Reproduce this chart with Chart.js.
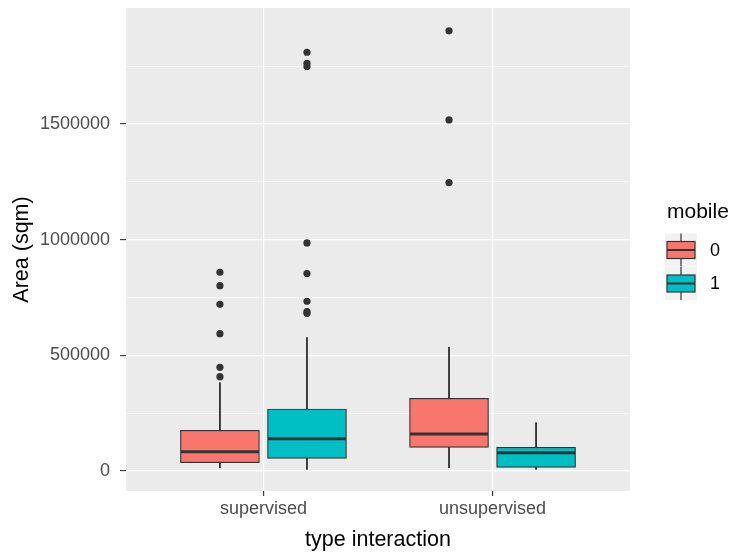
<!DOCTYPE html>
<html>
<head>
<meta charset="utf-8">
<script src="https://cdn.jsdelivr.net/npm/chart.js@4.4.0/dist/chart.umd.min.js"></script>
<style>
html, body { margin: 0; padding: 0; background: #ffffff; }
#wrap { width: 734px; height: 558px; position: relative; }
</style>
</head>
<body>
<div id="wrap"><canvas id="boxChart"></canvas></div>
<script>
// categories on the x axis and the fill groups
const categories = ['supervised', 'unsupervised'];
const mobileGroups = ['0', '1'];

// box statistics, one value per category
const lowMobile0 = [14000, 14400];
const q1Mobile0 = [36000, 102300];
const medianMobile0 = [83500, 160000];
const q3Mobile0 = [176000, 314100];
const highMobile0 = [381700, 534500];

const lowMobile1 = [7200, 7200];
const q1Mobile1 = [54800, 15800];
const medianMobile1 = [139700, 79200];
const q3Mobile1 = [268000, 102300];
const highMobile1 = [576300, 208900];

// outlying points per category
const outliersMobile0 = [
    [407700, 448000, 593500, 720400, 801000, 858800],
    [1246300, 1517200, 1902000]
];
const outliersMobile1 = [
    [681500, 688700, 733400, 853000, 985500, 1747800, 1762000, 1809600],
    []
];

// y ticks (major ones get labels, the others are minor grid lines)
const yTickValues = [0, 250000, 500000, 750000, 1000000, 1250000, 1500000, 1750000];
const yMajorStep = 500000;

const fillColors = ['#F8766D', '#00BFC4'];
const lineColor = '#333333';
const dodge = [-0.19, 0.19];
const boxPx = 79;

const groups = [
    { low: lowMobile0, q1: q1Mobile0, med: medianMobile0, q3: q3Mobile0, high: highMobile0, out: outliersMobile0 },
    { low: lowMobile1, q1: q1Mobile1, med: medianMobile1, q3: q3Mobile1, high: highMobile1, out: outliersMobile1 }
];

const datasets = [];
groups.forEach((g, gi) => {
    const xs = categories.map((c, i) => i + 1 + dodge[gi]);
    datasets.push({
        type: 'bar',
        label: 'whisker ' + mobileGroups[gi],
        data: xs.map((x, i) => ({ x: x, y: [g.low[i], g.high[i]] })),
        backgroundColor: lineColor,
        borderWidth: 0,
        barThickness: 1.2,
        grouped: false,
        order: 4
    });
    datasets.push({
        type: 'bar',
        label: 'box ' + mobileGroups[gi],
        data: xs.map((x, i) => ({ x: x, y: [g.q1[i], g.q3[i]] })),
        backgroundColor: fillColors[gi],
        borderColor: lineColor,
        borderWidth: 1.2,
        borderSkipped: false,
        barThickness: boxPx,
        grouped: false,
        order: 3
    });
    datasets.push({
        type: 'scatter',
        label: 'median ' + mobileGroups[gi],
        data: xs.map((x, i) => ({ x: x, y: g.med[i] })),
        pointStyle: 'line',
        pointRadius: boxPx / 2 - 0.5,
        borderColor: lineColor,
        pointBorderWidth: 3,
        borderWidth: 3,
        order: 2
    });
    const pts = [];
    g.out.forEach((list, i) => list.forEach(v => pts.push({ x: xs[i], y: v })));
    datasets.push({
        type: 'scatter',
        label: 'outliers ' + mobileGroups[gi],
        data: pts,
        pointRadius: 3.6,
        backgroundColor: lineColor,
        borderWidth: 0,
        order: 1
    });
});

const fontFamily = '"Liberation Sans", Arial, sans-serif';

const panelBg = {
    id: 'panelBg',
    beforeDraw(chart) {
        const { ctx, chartArea } = chart;
        ctx.save();
        ctx.fillStyle = '#EBEBEB';
        ctx.fillRect(chartArea.left, chartArea.top, chartArea.right - chartArea.left, chartArea.bottom - chartArea.top);
        ctx.restore();
    }
};

// ggplot style legend on the right
const boxLegend = {
    id: 'boxLegend',
    afterDraw(chart) {
        const ctx = chart.ctx;
        const left = chart.chartArea.right + 37;
        ctx.save();
        ctx.fillStyle = '#000';
        ctx.textBaseline = 'middle';
        ctx.textAlign = 'left';
        ctx.font = '21px ' + fontFamily;
        ctx.fillText('mobile', left, 212);
        mobileGroups.forEach((name, gi) => {
            const cy = 250 + gi * 33.5;
            const cx = left + 14;
            ctx.fillStyle = '#F2F2F2';
            ctx.fillRect(left - 2, cy - 16.5, 32, 33);
            ctx.strokeStyle = lineColor;
            ctx.lineWidth = 1.2;
            ctx.beginPath();
            ctx.moveTo(cx, cy - 16.5);
            ctx.lineTo(cx, cy + 16.5);
            ctx.stroke();
            ctx.fillStyle = fillColors[gi];
            ctx.fillRect(left, cy - 8.5, 28, 17);
            ctx.strokeRect(left, cy - 8.5, 28, 17);
            ctx.lineWidth = 2;
            ctx.beginPath();
            ctx.moveTo(left, cy);
            ctx.lineTo(left + 28, cy);
            ctx.stroke();
            ctx.fillStyle = '#000';
            ctx.font = '18px ' + fontFamily;
            ctx.fillText(name, left + 43, cy + 1);
        });
        ctx.restore();
    }
};

const isMajor = v => v % yMajorStep === 0;

new Chart(document.getElementById('boxChart'), {
    type: 'bar',
    data: { datasets: datasets },
    options: {
        responsive: true,
        maintainAspectRatio: false,
        animation: false,
        layout: { autoPadding: false, padding: { top: 8, right: 104, left: 0, bottom: 0 } },
        plugins: { legend: { display: false }, tooltip: { enabled: false } },
        scales: {
            x: {
                type: 'linear',
                min: 0.4,
                max: 2.6,
                offset: false,
                afterBuildTicks: scale => { scale.ticks = categories.map((c, i) => ({ value: i + 1 })); },
                afterFit: scale => {
                    scale.height = 67;
                    scale.paddingLeft = 0;
                    scale.paddingRight = 0;
                },
                grid: { offset: false, color: '#FFFFFF', lineWidth: 1.2, tickColor: lineColor, tickLength: 5, tickWidth: 1.1 },
                border: { display: false },
                ticks: {
                    color: '#4D4D4D',
                    font: { family: fontFamily, size: 18 },
                    padding: 2,
                    maxRotation: 0,
                    callback: v => categories[Math.round(v) - 1] || ''
                },
                title: {
                    display: true,
                    text: 'type interaction',
                    color: '#000',
                    font: { family: fontFamily, size: 21.5 },
                    padding: { top: 0, bottom: 5 }
                }
            },
            y: {
                type: 'linear',
                min: -86400,
                max: 2000800,
                afterBuildTicks: scale => { scale.ticks = yTickValues.map(v => ({ value: v })); },
                afterFit: scale => {
                    scale.width = 126;
                    scale.paddingTop = 0;
                    scale.paddingBottom = 0;
                },
                grid: {
                    color: '#FFFFFF',
                    lineWidth: c => isMajor(c.tick.value) ? 1.2 : 0.6,
                    tickColor: c => isMajor(c.tick.value) ? lineColor : 'rgba(0,0,0,0)',
                    tickLength: 6,
                    tickWidth: 1.1
                },
                border: { display: false },
                ticks: {
                    color: '#4D4D4D',
                    font: { family: fontFamily, size: 18 },
                    padding: 10,
                    callback: v => isMajor(v) ? String(v) : ''
                },
                title: {
                    display: true,
                    text: 'Area (sqm)',
                    color: '#000',
                    font: { family: fontFamily, size: 21.5 },
                    padding: { top: 9, bottom: 0 }
                }
            }
        }
    },
    plugins: [panelBg, boxLegend]
});
</script>
</body>
</html>
